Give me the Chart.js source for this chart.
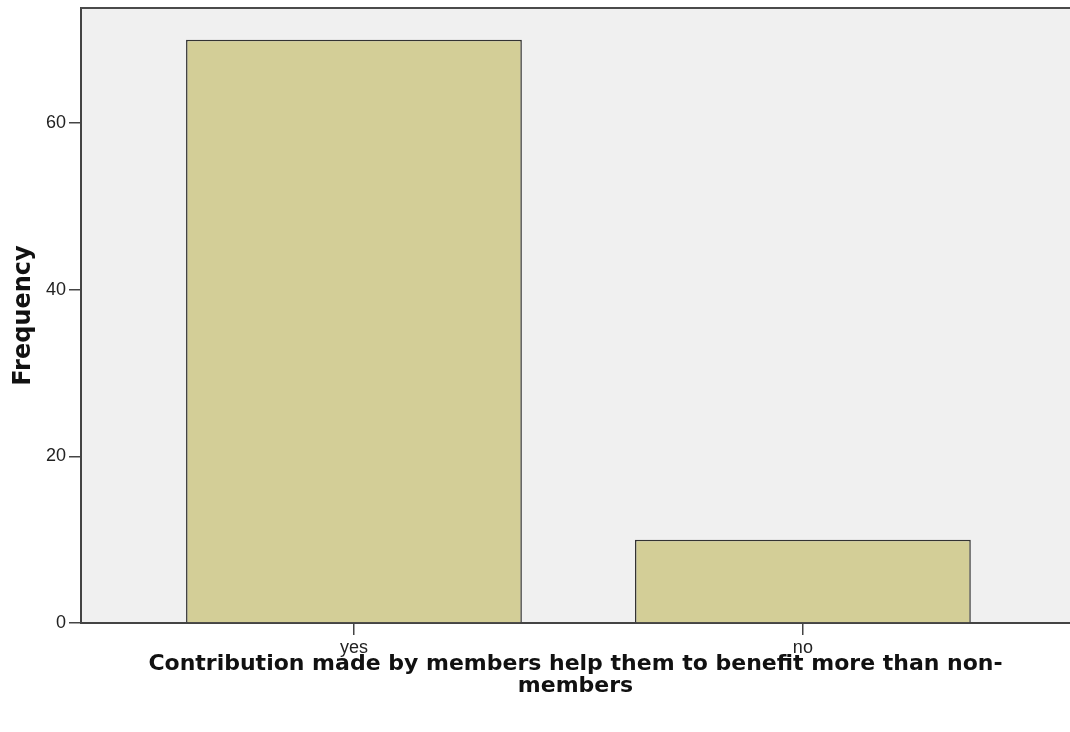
<!DOCTYPE html>
<html>
<head>
<meta charset="utf-8">
<script src="https://cdn.jsdelivr.net/npm/chart.js@4/dist/chart.umd.min.js"></script>
<style>
  html, body { margin: 0; padding: 0; background: #fff; }
  #wrap { width: 1070px; height: 732px; }
</style>
</head>
<body>
<div id="wrap"><canvas id="myChart" width="1070" height="732"></canvas></div>
<script>
let categories = ['yes', 'no'];
let frequencies = [70, 10];
let yTicks = [0, 20, 40, 60];
let xTitle = ['Contribution made by members help them to benefit more than non-', 'members'];
let yTitle = 'Frequency';

let points = categories.map((c, i) => ({x: i + 1, y: frequencies[i]}));

// grey plot background + top frame line
const plotFrame = {
    id: 'plotFrame',
    beforeDraw(chart) {
        const {ctx, chartArea: a} = chart;
        ctx.save();
        ctx.fillStyle = '#f0f0f0';
        ctx.fillRect(a.left, a.top, a.right - a.left, a.bottom - a.top);
        ctx.restore();
    },
    afterDraw(chart) {
        const {ctx, chartArea: a} = chart;
        ctx.save();
        ctx.strokeStyle = '#4a4a4a';
        ctx.lineWidth = 2;
        ctx.beginPath();
        ctx.moveTo(a.left, a.top);
        ctx.lineTo(a.right, a.top);
        ctx.stroke();
        ctx.restore();
    }
};

const ctx = document.getElementById('myChart');
let myChart = new Chart(ctx, {
    type: 'bar',
    data: {
        datasets: [{
            label: yTitle,
            data: points,
            backgroundColor: '#d3ce97',
            borderColor: '#333333',
            borderWidth: 1.5,
            categoryPercentage: 1,
            barPercentage: 0.748
        }]
    },
    options: {
        responsive: false,
        animation: false,
        devicePixelRatio: 1,
        layout: {padding: {top: 8, right: 0, left: 0, bottom: 0}},
        plugins: {legend: {display: false}, tooltip: {enabled: false}},
        scales: {
            x: {
                type: 'linear',
                offset: false,
                min: 0.392,
                max: 2.595,
                afterBuildTicks: (scale) => { scale.ticks = categories.map((c, i) => ({value: i + 1})); },
                afterFit: (scale) => { scale.height = 109; scale.paddingLeft = 0; scale.paddingRight = 0; },
                grid: {offset: false, drawOnChartArea: false, drawTicks: true, tickLength: 12, color: '#444', lineWidth: 1.5},
                border: {display: true, color: '#444', width: 2},
                ticks: {
                    color: '#222',
                    padding: 2,
                    font: {family: 'Liberation Sans', size: 18},
                    callback: (v) => categories[v - 1]
                },
                title: {
                    display: true,
                    text: xTitle,
                    color: '#111',
                    padding: {top: 0, bottom: 35},
                    font: {family: 'DejaVu Sans', weight: 'bold', size: 22, lineHeight: 1}
                }
            },
            y: {
                min: 0,
                max: 73.8,
                afterBuildTicks: (scale) => { scale.ticks = yTicks.map(v => ({value: v})); },
                afterFit: (scale) => { scale.width = 81; scale.paddingTop = 0; scale.paddingBottom = 0; },
                grid: {drawOnChartArea: false, drawTicks: true, tickLength: 12, color: '#444', lineWidth: 1.5},
                border: {display: true, color: '#444', width: 2},
                ticks: {
                    color: '#222',
                    padding: 3,
                    font: {family: 'Liberation Sans', size: 18}
                },
                title: {
                    display: true,
                    text: yTitle,
                    color: '#111',
                    padding: {top: 12, bottom: 0},
                    font: {family: 'DejaVu Sans', weight: 'bold', size: 24, lineHeight: 1}
                }
            }
        }
    },
    plugins: [plotFrame]
});
</script>
</body>
</html>
